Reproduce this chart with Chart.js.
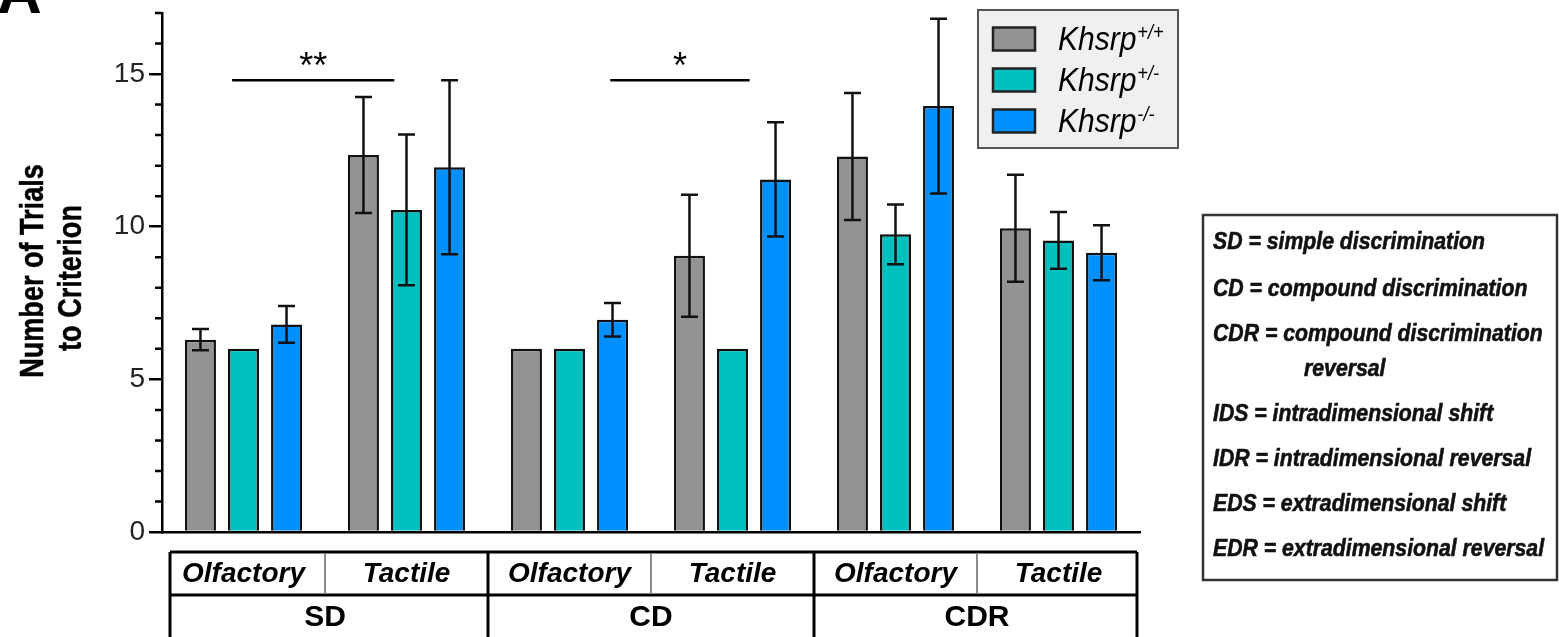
<!DOCTYPE html>
<html>
<head>
<meta charset="utf-8">
<script src="https://cdn.jsdelivr.net/npm/chart.js@4.4.1/dist/chart.umd.min.js"></script>
<style>
  html, body { margin: 0; padding: 0; background: #fff; overflow: hidden; }
  #wrap { position: relative; width: 1559px; height: 637px; }
</style>
</head>
<body>
<div id="wrap"><canvas id="chart"></canvas></div>
<script>
// categories: stage x modality
const categories = ['SD Olfactory', 'SD Tactile', 'CD Olfactory', 'CD Tactile', 'CDR Olfactory', 'CDR Tactile'];
const modalities = ['Olfactory', 'Tactile', 'Olfactory', 'Tactile', 'Olfactory', 'Tactile'];
const stages = ['SD', 'CD', 'CDR'];
const genotypes = ['+/+', '+/-', '-/-'];

// mean trials to criterion
const wildType = [6.3, 12.35, 6.0, 9.05, 12.3, 9.95];
const hetero = [6.0, 10.55, 6.0, 6.0, 9.75, 9.55];
const knockout = [6.8, 11.95, 6.95, 11.55, 13.95, 9.15];
// SEM
const wildTypeErr = [0.35, 1.9, 0, 2.0, 2.08, 1.75];
const heteroErr = [0, 2.47, 0, 0, 0.98, 0.93];
const knockoutErr = [0.6, 2.85, 0.55, 1.87, 2.86, 0.9];

const yMajorTicks = [0, 5, 10, 15];
const yMinorTicks = [1, 2, 3, 4, 6, 7, 8, 9, 11, 12, 13, 14, 16, 17];
const yTitleLines = ['Number of Trials', 'to Criterion'];

// significance bars (category index positions)
const sigFrom = [-0.07, 2.25];
const sigTo = [0.925, 3.105];
const sigLevel = [14.8, 14.8];
const sigText = ['**', '*'];

const abbrevLines = [
  'SD = simple discrimination',
  'CD = compound discrimination',
  'CDR = compound discrimination',
  'reversal',
  'IDS = intradimensional shift',
  'IDR = intradimensional reversal',
  'EDS = extradimensional shift',
  'EDR = extradimensional reversal'
];
const abbrevIndent = [0, 0, 0, 1, 0, 0, 0, 0];

const FONT = "'Liberation Sans', Arial, Helvetica, sans-serif";
Chart.defaults.font.family = FONT;
Chart.defaults.color = '#000';

const colors = ['#939393', '#00bfbf', '#0090ff'];

const errorBars = {
  id: 'errorBars',
  afterDatasetsDraw(chart) {
    const { ctx } = chart;
    const y = chart.scales.y;
    ctx.save();
    ctx.strokeStyle = '#111';
    ctx.lineWidth = 2.5;
    chart.data.datasets.forEach((ds, i) => {
      chart.getDatasetMeta(i).data.forEach((bar, j) => {
        const e = ds.errors[j];
        if (!e) return;
        const top = y.getPixelForValue(ds.data[j] + e);
        const bot = y.getPixelForValue(ds.data[j] - e);
        ctx.beginPath();
        ctx.moveTo(bar.x, top); ctx.lineTo(bar.x, bot);
        ctx.moveTo(bar.x - 8.5, top); ctx.lineTo(bar.x + 8.5, top);
        ctx.moveTo(bar.x - 8.5, bot); ctx.lineTo(bar.x + 8.5, bot);
        ctx.stroke();
      });
    });
    ctx.restore();
  }
};

const extras = {
  id: 'extras',
  afterDraw(chart) {
    const { ctx, chartArea } = chart;
    const x = chart.scales.x, y = chart.scales.y;
    ctx.save();

    // minor y ticks
    ctx.strokeStyle = '#000';
    ctx.lineWidth = 2.5;
    ctx.beginPath();
    yMinorTicks.forEach(v => {
      const py = y.getPixelForValue(v);
      ctx.moveTo(chartArea.left - 7, py);
      ctx.lineTo(chartArea.left, py);
    });
    ctx.stroke();

    // y title, condensed bold
    ctx.fillStyle = '#000';
    ctx.strokeStyle = '#000';
    ctx.lineWidth = 0.5;
    ctx.font = 'bold 33px ' + FONT;
    ctx.textAlign = 'center';
    ctx.textBaseline = 'alphabetic';
    [[43, 271], [81, 278]].forEach((p, i) => {
      ctx.save();
      ctx.translate(p[0], p[1]);
      ctx.rotate(-Math.PI / 2);
      ctx.scale(0.82, 1);
      ctx.fillText(yTitleLines[i], 0, 0);
      ctx.strokeText(yTitleLines[i], 0, 0);
      ctx.restore();
    });

    // significance
    const catW = x.getPixelForValue(1) - x.getPixelForValue(0);
    ctx.lineWidth = 2.5;
    ctx.font = '36px ' + FONT;
    sigText.forEach((t, i) => {
      const x1 = x.getPixelForValue(0) + sigFrom[i] * catW;
      const x2 = x.getPixelForValue(0) + sigTo[i] * catW;
      const py = y.getPixelForValue(sigLevel[i]);
      ctx.beginPath();
      ctx.moveTo(x1, py); ctx.lineTo(x2, py);
      ctx.stroke();
      ctx.fillText(t, (x1 + x2) / 2, py - 2);
    });

    // table under the axis
    const bound = i => (x.getPixelForValue(i - 1) + x.getPixelForValue(i)) / 2;
    const L = chartArea.left + 8, R = chartArea.right - 3;
    const t0 = chartArea.bottom + 20, t1 = t0 + 43, t2 = t1 + 44;
    ctx.lineWidth = 3;
    ctx.beginPath();
    ctx.moveTo(L, t0); ctx.lineTo(R, t0);
    ctx.moveTo(L, t1); ctx.lineTo(R, t1);
    ctx.moveTo(L, t2); ctx.lineTo(R, t2);
    [L, bound(2), bound(4), R].forEach(px => { ctx.moveTo(px, t0); ctx.lineTo(px, t2); });
    ctx.stroke();
    ctx.strokeStyle = '#8c8c8c';
    ctx.lineWidth = 2;
    ctx.beginPath();
    [1, 3, 5].forEach(i => { ctx.moveTo(bound(i), t0 + 1.5); ctx.lineTo(bound(i), t1 - 1.5); });
    ctx.stroke();
    ctx.fillStyle = '#000';
    ctx.textBaseline = 'middle';
    ctx.font = 'italic bold 28px ' + FONT;
    modalities.forEach((m, i) => ctx.fillText(m, x.getPixelForValue(i), (t0 + t1) / 2 + 1));
    ctx.font = 'bold 30px ' + FONT;
    stages.forEach((s, k) => {
      const cx = (x.getPixelForValue(2 * k) + x.getPixelForValue(2 * k + 1)) / 2;
      ctx.fillText(s, cx, t1 + 23);
    });

    // legend box
    ctx.fillStyle = '#f0f0f0';
    ctx.fillRect(978, 10, 200, 138);
    ctx.strokeStyle = '#555';
    ctx.lineWidth = 2;
    ctx.strokeRect(978, 10, 200, 138);
    chart.data.datasets.forEach((ds, i) => {
      const cy = 39 + i * 41;
      ctx.fillStyle = ds.backgroundColor;
      ctx.fillRect(993, cy - 11.5, 42, 23);
      ctx.strokeStyle = '#222';
      ctx.lineWidth = 2.5;
      ctx.strokeRect(993, cy - 11.5, 42, 23);
      ctx.fillStyle = '#000';
      ctx.textAlign = 'left';
      ctx.textBaseline = 'alphabetic';
      ctx.font = 'italic 33px ' + FONT;
      ctx.save();
      ctx.translate(1058, cy + 11);
      ctx.scale(0.91, 1);
      ctx.fillText('Khsrp', 0, 0);
      const w = ctx.measureText('Khsrp').width;
      ctx.font = 'italic 20px ' + FONT;
      ctx.fillText(genotypes[i], w + 1, -11);
      ctx.restore();
    });

    // abbreviation box
    ctx.strokeStyle = '#333';
    ctx.lineWidth = 2.5;
    ctx.strokeRect(1203, 215, 354, 365);
    ctx.fillStyle = '#111';
    ctx.strokeStyle = '#111';
    ctx.lineWidth = 0.6;
    ctx.font = 'italic bold 23px ' + FONT;
    ctx.textAlign = 'left';
    ctx.textBaseline = 'middle';
    const sx = 272 / ctx.measureText(abbrevLines[0]).width;
    let ly = 243;
    abbrevLines.forEach((line, i) => {
      if (i > 0) ly += abbrevIndent[i] ? 35 : (i === 1 ? 47 : 45);
      ctx.save();
      ctx.translate(abbrevIndent[i] ? 1304 : 1213, ly);
      ctx.scale(sx, 1);
      ctx.fillText(line, 0, 0);
      ctx.strokeText(line, 0, 0);
      ctx.restore();
    });

    // panel letter
    ctx.fillStyle = '#000';
    ctx.font = 'bold 62px ' + FONT;
    ctx.textBaseline = 'alphabetic';
    ctx.fillText('A', -3, 13);

    ctx.restore();
  }
};

new Chart(document.getElementById('chart'), {
  type: 'bar',
  data: {
    labels: categories,
    datasets: [
      { label: 'Khsrp' + genotypes[0], data: wildType, errors: wildTypeErr, backgroundColor: colors[0] },
      { label: 'Khsrp' + genotypes[1], data: hetero, errors: heteroErr, backgroundColor: colors[1] },
      { label: 'Khsrp' + genotypes[2], data: knockout, errors: knockoutErr, backgroundColor: colors[2] }
    ]
  },
  options: {
    responsive: true,
    maintainAspectRatio: false,
    animation: false,
    devicePixelRatio: 1,
    layout: { padding: { top: 13, right: 419, bottom: 0, left: 0 } },
    datasets: {
      bar: {
        borderColor: '#111',
        borderWidth: 2.5,
        categoryPercentage: 0.792,
        barPercentage: 0.72
      }
    },
    plugins: { legend: { display: false }, tooltip: { enabled: false } },
    scales: {
      x: {
        grid: { display: false },
        ticks: { display: false },
        border: { display: true, color: '#000', width: 2.5 },
        afterFit(scale) {
          scale.height = 105;
          scale.paddingLeft = 0; scale.paddingRight = 0;
        }
      },
      y: {
        min: 0,
        max: 17,
        afterBuildTicks(scale) {
          scale.ticks = yMajorTicks.map(v => ({ value: v }));
        },
        afterFit(scale) {
          scale.width = 162;
          scale.paddingTop = 0; scale.paddingBottom = 0;
        },
        grid: { drawOnChartArea: false, color: '#000', lineWidth: 2.5, tickLength: 13 },
        border: { display: true, color: '#000', width: 2.5 },
        ticks: { font: { size: 28 }, color: '#222', padding: 4 }
      }
    }
  },
  plugins: [errorBars, extras]
});
</script>
</body>
</html>
